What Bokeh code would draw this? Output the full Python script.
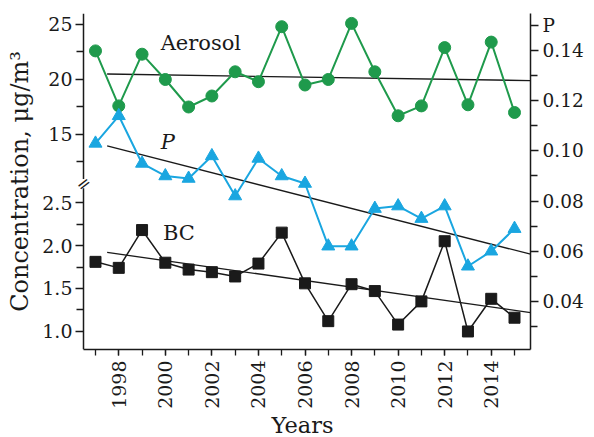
import numpy as np
from bokeh.plotting import figure
from bokeh.models import (Range1d, LinearAxis, FixedTicker, CustomJSTickFormatter,
                          Label, BoxAnnotation)
from bokeh.embed import file_html
from bokeh.resources import INLINE

# ---------------- data ----------------
years = list(range(1997, 2016))
aerosol = [22.6, 17.6, 22.3, 20.0, 17.5, 18.5, 20.7, 19.8, 24.8, 19.5,
           20.0, 25.1, 20.7, 16.7, 17.6, 22.9, 17.7, 23.4, 17.0]
p_values = [0.103, 0.114, 0.095, 0.090, 0.089, 0.098, 0.082, 0.097, 0.090, 0.087,
            0.062, 0.062, 0.077, 0.078, 0.073, 0.078, 0.054, 0.060, 0.069]
bc = [1.81, 1.74, 2.18, 1.80, 1.72, 1.69, 1.64, 1.79, 2.15, 1.56,
      1.12, 1.55, 1.47, 1.08, 1.35, 2.05, 1.00, 1.38, 1.16]

trend_years = [1997.5, 2015.69]
aerosol_trend = [20.5, 19.9]
p_trend = [0.102, 0.0588]
bc_trend = [1.92, 1.22]

x_major = [1998, 2000, 2002, 2004, 2006, 2008, 2010, 2012, 2014]
x_minor = list(range(1997, 2016))
bc_major = [1.0, 1.5, 2.0, 2.5]
bc_minor = [1.25, 1.75, 2.25]
aer_major = [15, 20, 25]
aer_minor = [12.5, 17.5, 22.5]
p_major = [0.04, 0.06, 0.08, 0.10, 0.12, 0.14]
p_minor = [0.03, 0.05, 0.07, 0.09, 0.11, 0.13]
p_name_tick = 0.15          # tick that carries the "P" name on the right axis

# ---------------- ranges (broken left axis) ----------------
AXIS_X0 = 1996.485          # left axis position
X_START, X_END = 1996.098, 2015.687
BC_LO, BC_HI = 0.79, 4.70
AER_LO, AER_HI = -4.55, 26.0
P_LO, P_HI = 0.0208, 0.1548
BREAK_BC = 2.72             # where the left axis is broken (in BC units)
BREAK_HALF = 0.055


def aer_to_bc(a):
    return BC_LO + (a - AER_LO) * (BC_HI - BC_LO) / (AER_HI - AER_LO)


GREEN = "#1f9a4c"
BLUE = "#1aa6e0"
BLACK = "#1a1a1a"
FONT = "DejaVu Serif"

p = figure(frame_width=456, frame_height=336,
           x_range=Range1d(X_START, X_END), y_range=Range1d(BC_LO, BC_HI),
           output_backend="svg", toolbar_location=None,
           min_border_left=74, min_border_right=56, min_border_top=13,
           min_border_bottom=80, x_axis_type=None, y_axis_type=None)
p.extra_y_ranges = {"aer": Range1d(AER_LO, AER_HI), "p": Range1d(P_LO, P_HI)}
p.outline_line_color = None
p.background_fill_color = "white"
p.border_fill_color = "white"

# ---------------- axes ----------------
xaxis = LinearAxis(ticker=FixedTicker(ticks=x_major, minor_ticks=x_minor),
                   axis_label="Years", bounds=(AXIS_X0, X_END))
xaxis.major_label_orientation = np.pi / 2
p.add_layout(xaxis, "below")

left_ticks = bc_major + [aer_to_bc(a) for a in aer_major]
left_minor = bc_minor + [aer_to_bc(a) for a in aer_minor]
left_fmt = CustomJSTickFormatter(
    args=dict(split=BREAK_BC, alo=AER_LO, ahi=AER_HI, blo=BC_LO, bhi=BC_HI),
    code="""
    if (tick > split) {
        const a = alo + (tick - blo) * (ahi - alo) / (bhi - blo);
        return a.toFixed(0);
    }
    return tick.toFixed(1);
    """)
# left axis, part 1: labels only (at the frame edge)
ylabels = LinearAxis(ticker=FixedTicker(ticks=left_ticks, minor_ticks=[]),
                     formatter=left_fmt, axis_label="Concentration, μg/m³")
ylabels.axis_line_color = None
ylabels.major_tick_out = 0
ylabels.minor_tick_out = 0
ylabels.major_label_standoff = 2
ylabels.axis_label_standoff = 5
ylabels.axis_label_text_font_size = "24px"
p.add_layout(ylabels, "left")

# left axis, part 2: line and ticks at the axis position
yline = LinearAxis(ticker=FixedTicker(ticks=left_ticks, minor_ticks=left_minor),
                   formatter=CustomJSTickFormatter(code='return "";'),
                   fixed_location=AXIS_X0)
yline.major_tick_out = 8
yline.minor_tick_out = 7
yline.major_label_standoff = 0
p.add_layout(yline, "left")

right_fmt = CustomJSTickFormatter(args=dict(name_tick=p_name_tick), code="""
    if (Math.abs(tick - name_tick) < 1e-6) { return "P"; }
    return tick.toFixed(2);
""")
raxis = LinearAxis(y_range_name="p",
                   ticker=FixedTicker(ticks=p_major + [p_name_tick], minor_ticks=p_minor),
                   formatter=right_fmt)
raxis.major_tick_out = 8
raxis.minor_tick_out = 7
raxis.major_label_standoff = 4
p.add_layout(raxis, "right")

for ax in (xaxis, ylabels, yline, raxis):
    ax.major_tick_in = 0
    ax.minor_tick_in = 0
    ax.axis_line_width = 1.5
    ax.major_tick_line_color = BLACK
    ax.minor_tick_line_color = BLACK
    ax.major_tick_line_width = 1.3
    ax.minor_tick_line_width = 1.3
    ax.major_label_text_font = FONT
    ax.major_label_text_font_size = "19px"
    ax.major_label_text_color = BLACK
    ax.axis_label_text_font = FONT
    ax.axis_label_text_font_style = "normal"
    ax.axis_label_text_color = BLACK
for ax in (xaxis, yline, raxis):
    ax.axis_line_color = BLACK
ylabels.major_tick_line_color = None
ylabels.minor_tick_line_color = None

xaxis.major_tick_out = 6
xaxis.minor_tick_out = 6
xaxis.major_label_standoff = 5
xaxis.axis_label_standoff = 0
xaxis.axis_label_text_font_size = "22.5px"
raxis.major_label_text_font_size = "18.5px"

# ---------------- data series ----------------
p.line(trend_years, aerosol_trend, y_range_name="aer", line_color=BLACK, line_width=1.3)
p.line(trend_years, p_trend, y_range_name="p", line_color=BLACK, line_width=1.3)
p.line(trend_years, bc_trend, line_color=BLACK, line_width=1.3)

p.line(years, aerosol, y_range_name="aer", line_color=GREEN, line_width=2)
p.scatter(years, aerosol, y_range_name="aer", marker="circle", size=12,
          fill_color=GREEN, line_color=GREEN)

p.line(years, p_values, y_range_name="p", line_color=BLUE, line_width=2)
p.scatter(years, p_values, y_range_name="p", marker="triangle", size=13,
          fill_color=BLUE, line_color=BLUE)

p.line(years, bc, line_color=BLACK, line_width=1.5)
p.scatter(years, bc, marker="square", size=11, fill_color=BLACK, line_color=BLACK)

# ---------------- labels ----------------
p.add_layout(Label(x=1999.8, y=23.3, y_range_name="aer", text="Aerosol",
                   text_font=FONT, text_font_size="21px", text_color=BLACK,
                   text_baseline="middle"))
p.add_layout(Label(x=1999.8, y=0.1036, y_range_name="p", text="P",
                   text_font=FONT, text_font_size="21px", text_font_style="italic",
                   text_color=BLACK, text_baseline="middle"))
p.add_layout(Label(x=1999.9, y=2.14, text="BC",
                   text_font=FONT, text_font_size="21px", text_color=BLACK,
                   text_baseline="middle"))

# axis break: white gap in the axis line + two slanted strokes
p.add_layout(BoxAnnotation(left=X_START, right=AXIS_X0 + 0.12,
                           bottom=BREAK_BC - BREAK_HALF, top=BREAK_BC + BREAK_HALF,
                           fill_color="white", fill_alpha=1.0, line_color=None))
p.add_layout(Label(x=AXIS_X0, y=BREAK_BC, text="=", angle=0.66,
                   text_font="DejaVu Sans", text_font_size="17px",
                   text_color=BLACK, text_align="center", text_baseline="middle"))

open("out.html", "w").write(file_html(p, INLINE))
